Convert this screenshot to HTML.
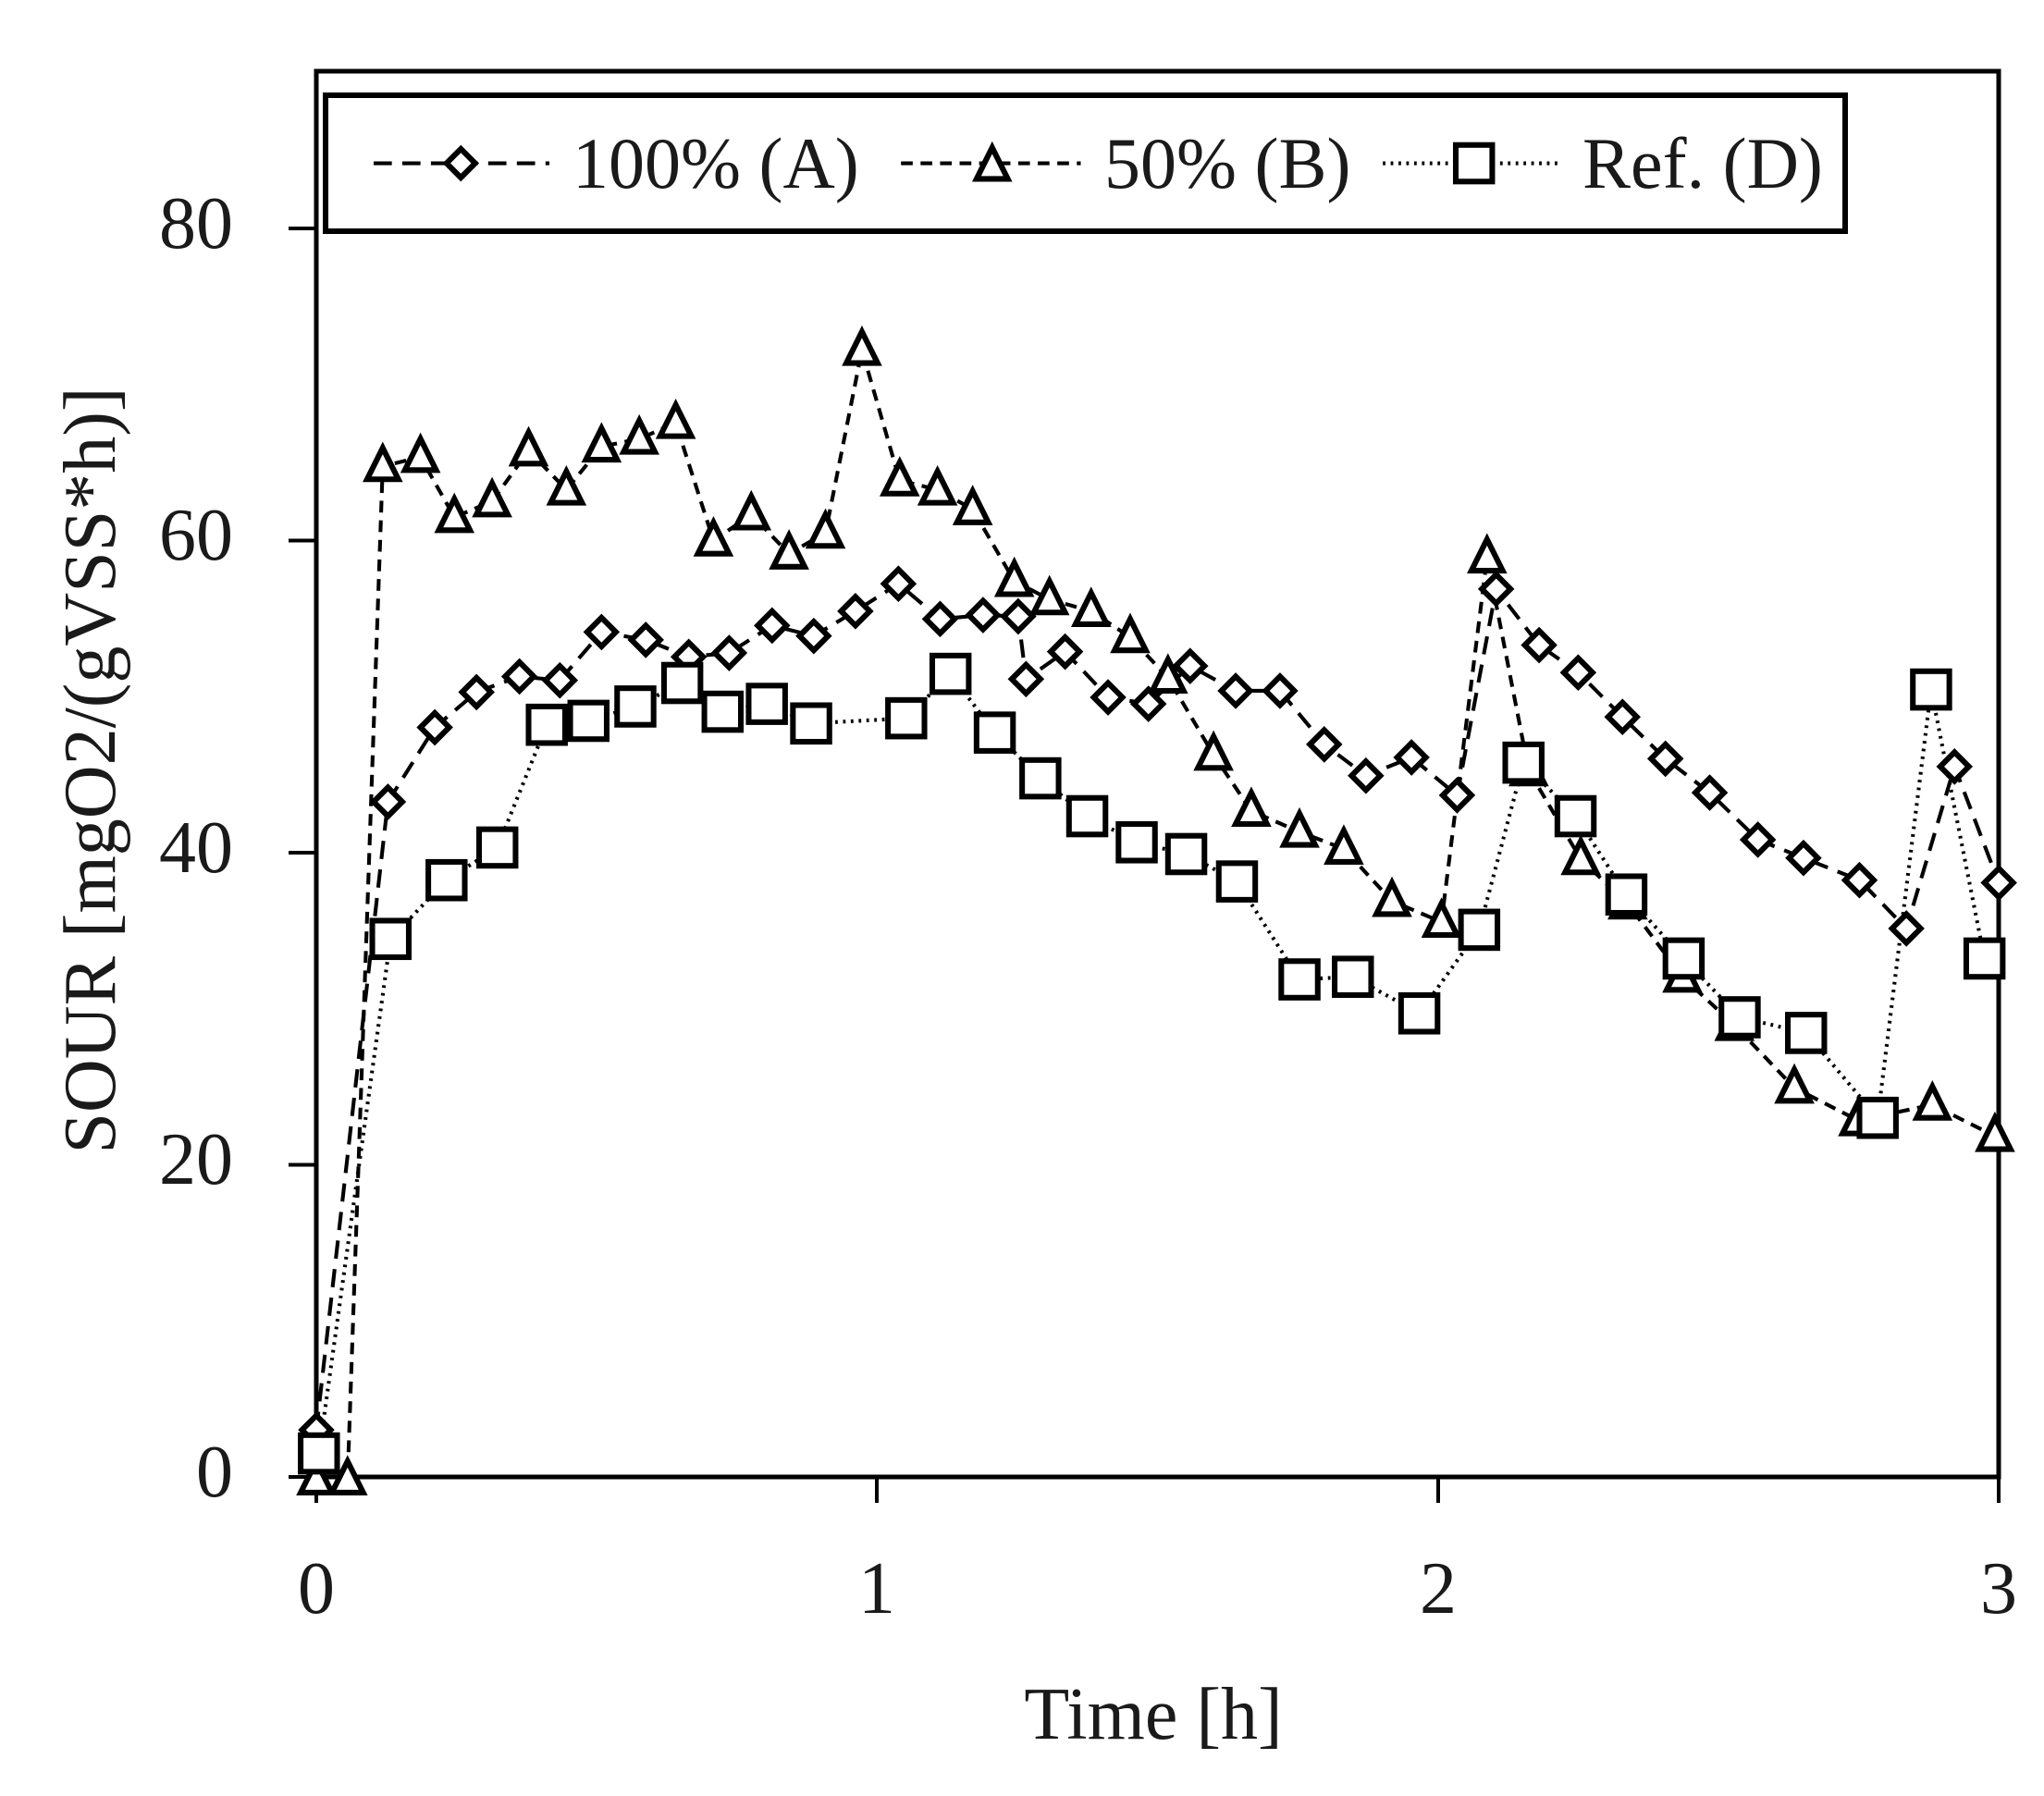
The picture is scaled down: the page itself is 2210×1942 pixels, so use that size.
<!DOCTYPE html>
<html><head><meta charset="utf-8"><style>html,body{margin:0;padding:0;background:#fff}svg{display:block}</style></head><body>
<svg width="2210" height="1942" viewBox="0 0 2210 1942" xmlns="http://www.w3.org/2000/svg" font-family="Liberation Serif, serif">
<rect width="2210" height="1942" fill="#fff"/>
<rect x="342" y="77" width="1819" height="1520" fill="none" stroke="#000" stroke-width="5"/>
<g stroke="#000" stroke-width="4">
<line x1="312" y1="1597" x2="342" y2="1597"/><line x1="312" y1="1259.5" x2="342" y2="1259.5"/><line x1="312" y1="922" x2="342" y2="922"/><line x1="312" y1="584.5" x2="342" y2="584.5"/><line x1="312" y1="247" x2="342" y2="247"/>
<line x1="342" y1="1597" x2="342" y2="1625"/><line x1="948" y1="1597" x2="948" y2="1625"/><line x1="1555" y1="1597" x2="1555" y2="1625"/><line x1="2161" y1="1597" x2="2161" y2="1625"/>
</g>
<g font-size="80" text-anchor="end" fill="#1a1a1a">
<text x="252" y="1618">0</text><text x="252" y="1280">20</text><text x="252" y="943">40</text><text x="252" y="605">60</text><text x="252" y="268">80</text>
</g>
<g font-size="80" text-anchor="middle" fill="#1a1a1a">
<text x="342" y="1744">0</text><text x="948" y="1744">1</text><text x="1555" y="1744">2</text><text x="2161" y="1744">3</text>
<text x="1247" y="1880">Time [h]</text>
<text transform="translate(124,833) rotate(-90)">SOUR [mgO2/(gVSS*h)]</text>
</g>
<g transform="translate(342,1597) scale(1.408,1.412) translate(-241,-1131)">
<g fill="none" stroke="#000" stroke-width="2.9">
<polyline stroke-dasharray="14,8" points="241,1095 296,614 332,557 364,530 397,518 428,521 460,484 494,490 527,503 558,500 591,479 623,487 655,468 688,447 720,474 753,471 780,472 786,520 816,499 849,534 880,539 912,510 947,529 981,529 1015,570 1047,594 1082,580 1117,609 1147,451 1180,494 1210,515 1244,549 1277,581 1311,607 1348,643 1383,657 1426,674 1462,711 1499,587 1533,676"/>
<polyline stroke-dasharray="9,6" points="241,1133 265,1133 292,357 321,350 347,396 376,384 404,345 433,375 460,342 489,336 517,324 546,414 575,394 604,424 632,408 660,268 689,368 718,375 745,390 777,445 804,459 836,468 866,488 895,519 930,578 959,621 996,637 1030,650 1067,690 1105,706 1140,427 1172,590 1212,658 1248,692 1290,748 1330,785 1376,833 1425,858 1482,846 1530,870"/>
<polyline stroke-dasharray="2,4" points="243,1113 298,719 341,674 380,649 418,555 450,552 486,541 522,523 553,545 587,539 621,554 694,550 728,516 762,561 797,596 833,625 871,645 909,654 948,675 996,750 1037,748 1088,776 1134,712 1168,584 1208,625 1247,685 1291,734 1334,779 1385,791 1440,856 1481,528 1522,734"/>
</g>
<defs>
<path id="d" d="M0,-11 L11,0 L0,11 L-11,0Z" fill="#fff" stroke="#000" stroke-width="4.3"/>
<path id="t" d="M0,-14 L12,10 L-12,10Z" fill="#fff" stroke="#000" stroke-width="4.3"/>
<rect id="s" x="-14" y="-14" width="28" height="28" fill="#fff" stroke="#000" stroke-width="4.3"/>
</defs>
<g>
<use href="#d" x="241" y="1095"/><use href="#d" x="296" y="614"/><use href="#d" x="332" y="557"/><use href="#d" x="364" y="530"/><use href="#d" x="397" y="518"/><use href="#d" x="428" y="521"/><use href="#d" x="460" y="484"/><use href="#d" x="494" y="490"/><use href="#d" x="527" y="503"/><use href="#d" x="558" y="500"/><use href="#d" x="591" y="479"/><use href="#d" x="623" y="487"/><use href="#d" x="655" y="468"/><use href="#d" x="688" y="447"/><use href="#d" x="720" y="474"/><use href="#d" x="753" y="471"/><use href="#d" x="780" y="472"/><use href="#d" x="786" y="520"/><use href="#d" x="816" y="499"/><use href="#d" x="849" y="534"/><use href="#d" x="880" y="539"/><use href="#d" x="912" y="510"/><use href="#d" x="947" y="529"/><use href="#d" x="981" y="529"/><use href="#d" x="1015" y="570"/><use href="#d" x="1047" y="594"/><use href="#d" x="1082" y="580"/><use href="#d" x="1117" y="609"/><use href="#d" x="1147" y="451"/><use href="#d" x="1180" y="494"/><use href="#d" x="1210" y="515"/><use href="#d" x="1244" y="549"/><use href="#d" x="1277" y="581"/><use href="#d" x="1311" y="607"/><use href="#d" x="1348" y="643"/><use href="#d" x="1383" y="657"/><use href="#d" x="1426" y="674"/><use href="#d" x="1462" y="711"/><use href="#d" x="1499" y="587"/><use href="#d" x="1533" y="676"/>
</g>
<g>
<use href="#t" x="241" y="1133"/><use href="#t" x="265" y="1133"/><use href="#t" x="292" y="357"/><use href="#t" x="321" y="350"/><use href="#t" x="347" y="396"/><use href="#t" x="376" y="384"/><use href="#t" x="404" y="345"/><use href="#t" x="433" y="375"/><use href="#t" x="460" y="342"/><use href="#t" x="489" y="336"/><use href="#t" x="517" y="324"/><use href="#t" x="546" y="414"/><use href="#t" x="575" y="394"/><use href="#t" x="604" y="424"/><use href="#t" x="632" y="408"/><use href="#t" x="660" y="268"/><use href="#t" x="689" y="368"/><use href="#t" x="718" y="375"/><use href="#t" x="745" y="390"/><use href="#t" x="777" y="445"/><use href="#t" x="804" y="459"/><use href="#t" x="836" y="468"/><use href="#t" x="866" y="488"/><use href="#t" x="895" y="519"/><use href="#t" x="930" y="578"/><use href="#t" x="959" y="621"/><use href="#t" x="996" y="637"/><use href="#t" x="1030" y="650"/><use href="#t" x="1067" y="690"/><use href="#t" x="1105" y="706"/><use href="#t" x="1140" y="427"/><use href="#t" x="1172" y="590"/><use href="#t" x="1212" y="658"/><use href="#t" x="1248" y="692"/><use href="#t" x="1290" y="748"/><use href="#t" x="1330" y="785"/><use href="#t" x="1376" y="833"/><use href="#t" x="1425" y="858"/><use href="#t" x="1482" y="846"/><use href="#t" x="1530" y="870"/>
</g>
<g>
<use href="#s" x="243" y="1113"/><use href="#s" x="298" y="719"/><use href="#s" x="341" y="674"/><use href="#s" x="380" y="649"/><use href="#s" x="418" y="555"/><use href="#s" x="450" y="552"/><use href="#s" x="486" y="541"/><use href="#s" x="522" y="523"/><use href="#s" x="553" y="545"/><use href="#s" x="587" y="539"/><use href="#s" x="621" y="554"/><use href="#s" x="694" y="550"/><use href="#s" x="728" y="516"/><use href="#s" x="762" y="561"/><use href="#s" x="797" y="596"/><use href="#s" x="833" y="625"/><use href="#s" x="871" y="645"/><use href="#s" x="909" y="654"/><use href="#s" x="948" y="675"/><use href="#s" x="996" y="750"/><use href="#s" x="1037" y="748"/><use href="#s" x="1088" y="776"/><use href="#s" x="1134" y="712"/><use href="#s" x="1168" y="584"/><use href="#s" x="1208" y="625"/><use href="#s" x="1247" y="685"/><use href="#s" x="1291" y="734"/><use href="#s" x="1334" y="779"/><use href="#s" x="1385" y="791"/><use href="#s" x="1440" y="856"/><use href="#s" x="1481" y="528"/><use href="#s" x="1522" y="734"/>
</g>
</g>
<rect x="352" y="103" width="1643" height="147" fill="#fff" stroke="#000" stroke-width="6"/>
<g transform="translate(342,1597) scale(1.408,1.412) translate(-241,-1131)">
<g fill="none" stroke="#000" stroke-width="2.9">
<line x1="285" y1="125" x2="420" y2="125" stroke-dasharray="14,8"/>
<line x1="690" y1="125" x2="828" y2="125" stroke-dasharray="9,6"/>
<line x1="1060" y1="125" x2="1195" y2="125" stroke-dasharray="2,4"/>
</g>
<use href="#d" x="352" y="125"/><use href="#t" x="760" y="127"/><use href="#s" x="1130" y="125"/>
</g>
<g font-size="78" fill="#1a1a1a">
<text x="619" y="203">100% (A)</text><text x="1194" y="203">50% (B)</text><text x="1711" y="203">Ref. (D)</text>
</g>
</svg>
</body></html>
